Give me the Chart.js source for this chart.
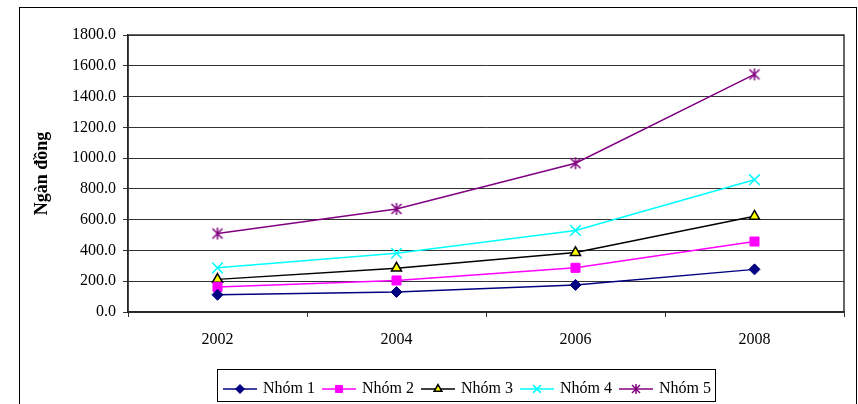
<!DOCTYPE html>
<html>
<head>
<meta charset="utf-8">
<script src="https://cdn.jsdelivr.net/npm/chart.js@4/dist/chart.umd.min.js"></script>
<style>
  body { margin: 0; background: #fff; }
  #wrap { position: relative; width: 858px; height: 404px; overflow: hidden; }
  #frame { position: absolute; left: 19px; top: 7px; width: 836px; height: 420px; border: 1.5px solid #000; }
  #chart { position: absolute; left: 0; top: 0; }
</style>
</head>
<body>
<div id="wrap">
  <div id="frame"></div>
  <canvas id="chart" width="858" height="404"></canvas>
</div>
<script>
// ── Data ──
const years  = ['2002', '2004', '2006', '2008'];
const nhom1  = [112, 130, 176, 277];
const nhom2  = [163, 205, 287, 458];
const nhom3  = [212, 285, 386, 622];
const nhom4  = [287, 382, 530, 860];
const nhom5  = [510, 670, 967, 1544];
const yTicks = { min: 0, max: 1800, step: 200 };

Chart.defaults.font.family = '"Liberation Serif", "Times New Roman", serif';
Chart.defaults.font.size   = 16;
Chart.defaults.color       = '#000';

// ── Marker helpers ──
function drawAsterisk(ctx, x, y, r, color) {
  ctx.save();
  ctx.strokeStyle = color;
  ctx.lineWidth = 1.5;
  ctx.beginPath();
  ctx.moveTo(x - r, y - r); ctx.lineTo(x + r, y + r);
  ctx.moveTo(x + r, y - r); ctx.lineTo(x - r, y + r);
  ctx.moveTo(x, y - r - 1); ctx.lineTo(x, y + r + 1);
  ctx.stroke();
  ctx.restore();
}
function asteriskImg(color, r) {
  const c = document.createElement('canvas');
  c.width = c.height = 2 * r + 4;
  drawAsterisk(c.getContext('2d'), r + 2, r + 2, r, color);
  return c;
}
function drawMarker(ctx, s, x, y, r) {
  if (s.style === 'asterisk') { drawAsterisk(ctx, x, y, r - 1, s.color); return; }
  ctx.save();
  ctx.fillStyle   = s.fill;
  ctx.strokeStyle = s.stroke;
  ctx.lineWidth   = s.bw;
  Chart.helpers.drawPoint(ctx, { pointStyle: s.style, radius: r, borderWidth: s.bw, rotation: 0 }, x, y);
  ctx.restore();
}
function legendImg(s) {
  const c = document.createElement('canvas');
  c.width = 34; c.height = 14;
  const ctx = c.getContext('2d');
  ctx.strokeStyle = s.color;
  ctx.lineWidth = 1.5;
  ctx.beginPath(); ctx.moveTo(0, 7); ctx.lineTo(34, 7); ctx.stroke();
  drawMarker(ctx, s, 17, 7, s.legendR);
  return c;
}

const series = [
  { label: 'Nhóm 1', data: nhom1, color: '#000080', style: 'rectRot',  fill: '#000080', stroke: '#000080', bw: 1,   r: 5.5, legendR: 4.5 },
  { label: 'Nhóm 2', data: nhom2, color: '#FF00FF', style: 'rect',     fill: '#FF00FF', stroke: '#FF00FF', bw: 1,   r: 6.4, legendR: 5 },
  { label: 'Nhóm 3', data: nhom3, color: '#000000', style: 'triangle', fill: '#FFFF00', stroke: '#000000', bw: 1.5, r: 5.8, legendR: 4.5 },
  { label: 'Nhóm 4', data: nhom4, color: '#00FFFF', style: 'crossRot', fill: '#00FFFF', stroke: '#00FFFF', bw: 1.5, r: 7.5, legendR: 5.5 },
  { label: 'Nhóm 5', data: nhom5, color: '#800080', style: 'asterisk', fill: '#800080', stroke: '#800080', bw: 1.5, r: 5.5, legendR: 5 },
];

const datasets = series.map(s => ({
  label: s.label,
  data: s.data,
  borderColor: s.color,
  borderWidth: 1.5,
  tension: 0,
  pointStyle: s.style === 'asterisk' ? asteriskImg(s.color, 5) : s.style,
  pointRadius: s.r,
  pointBackgroundColor: s.fill,
  pointBorderColor: s.stroke,
  pointBorderWidth: s.bw,
  legendImage: legendImg(s),
}));

// ── Plot box, legend shift and legend border ──
const framePlugin = {
  id: 'framePlugin',
  afterLayout(chart) {
    const lg = chart.legend;
    lg.left  += 36;
    lg.right += 36;
  },
  afterDraw(chart) {
    const { ctx, chartArea: a, legend } = chart;
    ctx.save();
    ctx.strokeStyle = '#333';
    ctx.lineWidth = 1.5;
    ctx.strokeRect(a.left, a.top, a.right - a.left, a.bottom - a.top);
    const hb = legend.legendHitBoxes;
    if (hb && hb.length) {
      const l = hb[0].left - 8;
      const r = hb[hb.length - 1].left + hb[hb.length - 1].width + 4;
      const cy = hb[0].top + hb[0].height / 2;
      ctx.strokeStyle = '#000';
      ctx.lineWidth = 1;
      ctx.strokeRect(Math.round(l) + 0.5, Math.round(cy - 20) + 0.5, Math.round(r - l), 32);
    }
    ctx.restore();
  }
};

new Chart(document.getElementById('chart').getContext('2d'), {
  type: 'line',
  data: { labels: years, datasets },
  plugins: [framePlugin],
  options: {
    responsive: false,
    animation: false,
    layout: { padding: { left: 20, right: 14, top: 35, bottom: -3 } },
    plugins: {
      tooltip: { enabled: false },
      legend: {
        position: 'bottom',
        labels: {
          usePointStyle: true,
          pointStyleWidth: 30,
          padding: 9,
          font: { size: 16 },
          color: '#000',
          generateLabels(chart) {
            return chart.data.datasets.map((d, i) => ({
              text: d.label,
              pointStyle: d.legendImage,
              datasetIndex: i,
              hidden: false,
              lineWidth: 0,
              strokeStyle: 'transparent',
              fillStyle: 'transparent',
            }));
          }
        }
      }
    },
    scales: {
      x: {
        offset: true,
        afterFit(scale) { scale.height = 60; },
        grid: { offset: true, drawOnChartArea: false, drawTicks: true, tickLength: 5, color: '#333' },
        border: { color: '#000', width: 1.5 },
        ticks: { padding: 13, font: { size: 16 }, color: '#000', maxRotation: 0 }
      },
      y: {
        min: yTicks.min,
        max: yTicks.max,
        afterFit(scale) { scale.width = 108; },
        grid: { color: '#333', tickLength: 5, lineWidth: 1 },
        border: { color: '#000', width: 1.5 },
        ticks: {
          stepSize: yTicks.step,
          padding: 7,
          font: { size: 16 },
          color: '#000',
          callback: v => Number(v).toFixed(1)
        },
        title: {
          display: true,
          text: 'Ngàn đồng',
          font: { size: 18, weight: 'bold' },
          color: '#000',
          padding: { top: 12, bottom: 0 }
        }
      }
    }
  }
});
</script>
</body>
</html>
